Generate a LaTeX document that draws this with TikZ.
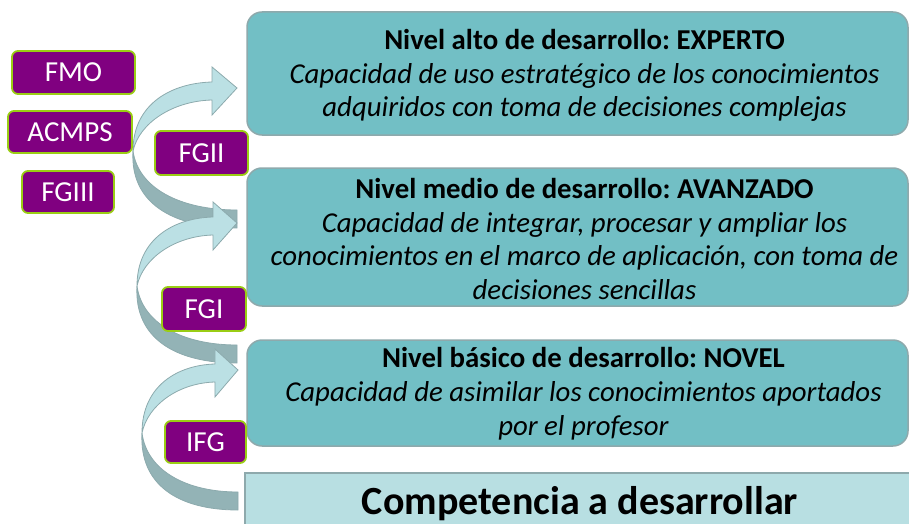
\documentclass[tikz,border=0pt]{standalone}
\usepackage{fontspec}
\setmainfont{Carlito}
\frenchspacing
\definecolor{nivel}{HTML}{72BFC5}
\definecolor{nivelborde}{HTML}{8EA9AC}
\definecolor{base}{HTML}{B8DFE2}
\definecolor{morado}{HTML}{800080}
\definecolor{verde}{HTML}{9ACD14}
\definecolor{flecha}{HTML}{BBE0E4}
\definecolor{flechaosc}{HTML}{93B3B6}
\definecolor{flechaborde}{HTML}{8CAAAD}
% curved block arrow: tip coordinate, horizontal reach
\newcommand{\curvarrow}[2]{%
	\begin{scope}[shift={(#1)}, xscale=#2/100]
		\filldraw[fill=flechaosc, draw=flechaborde, line width=0.8pt] (-100,63) .. controls (-103,115) and (-62,140) .. (0,140) -- (0,122) .. controls (-55,122) and (-95,100) .. (-100,63) -- cycle;
		\filldraw[fill=flecha, draw=flechaborde, line width=0.8pt] (0,0) -- (-24,-21) -- (-24,-6) .. controls (-62,-5) and (-100,15) .. (-100,63) .. controls (-94,35) and (-62,13) .. (-24,12) -- (-24,27) -- cycle;
	\end{scope}}
\begin{document}
\begin{tikzpicture}[x=1pt, y=-1pt]
			\tikzset{caja/.style={rectangle, rounded corners=15pt, fill=nivel, draw=nivelborde, line width=1.5pt, minimum width=661pt},
				texto/.style={align=center, font=\fontsize{28.8}{33.8}\selectfont},
				etiqueta/.style={rectangle, rounded corners=6pt, fill=morado, draw=verde, line width=1.8pt, text=white, inner sep=0pt, minimum height=43pt, font=\fontsize{29}{32}\selectfont}}
\useasboundingbox (0,0) rectangle (909,524);

\coordinate (p1) at (238, 370);
\coordinate (p2) at (237, 223);
\coordinate (p3) at (237, 88);
			\curvarrow{p3}{104}
			\curvarrow{p2}{100}
			\curvarrow{p1}{96}

\node[caja, minimum height=123pt] at (577.5, 73.5) (alto) {};
\node[caja, minimum height=138pt] at (577.5, 237) (medio) {};
\node[caja, minimum height=106pt] at (577.5, 393) (basico) {};
\node[rectangle, fill=base, draw=nivelborde, line width=1.5pt, minimum width=670pt, minimum height=62pt, font=\fontsize{40}{44}\selectfont\bfseries] at (580, 504) (comp) {Competencia a desarrollar};

\node[texto] at ([xshift=7pt, yshift=-2pt]alto.center) (talto) {\textbf{Nivel alto de desarrollo: EXPERTO}\\ \textit{Capacidad de uso estratégico de los conocimientos}\\ \textit{adquiridos con toma de decisiones complejas}};
\node[texto] at ([xshift=7pt, yshift=-2pt]medio.center) (tmedio) {\textbf{Nivel medio de desarrollo: AVANZADO}\\ \textit{Capacidad de integrar, procesar y ampliar los}\\ \textit{conocimientos en el marco de aplicación, con toma de}\\ \textit{decisiones sencillas}};
\node[texto] at ([xshift=6pt, yshift=-1pt]basico.center) (tbasico) {\textbf{Nivel básico de desarrollo: NOVEL}\\ \textit{Capacidad de asimilar los conocimientos aportados}\\ \textit{por el profesor}};

\node[etiqueta, minimum width=123pt] at (73.5, 72.5) (fmo) {FMO};
\node[etiqueta, minimum width=124pt, minimum height=42pt] at (70, 132) (acmps) {ACMPS};
\node[etiqueta, minimum width=92pt, minimum height=42pt] at (68, 192) (fgiii) {FGIII};
\node[etiqueta, minimum width=93pt, minimum height=44pt] at (201.5, 153) (fgii) {FGII};
\node[etiqueta, minimum width=84pt, minimum height=44pt] at (204, 309) (fgi) {FGI};
\node[etiqueta, minimum width=81pt, minimum height=42pt] at (205.5, 442) (ifg) {IFG};
		\end{tikzpicture}
\end{document}
